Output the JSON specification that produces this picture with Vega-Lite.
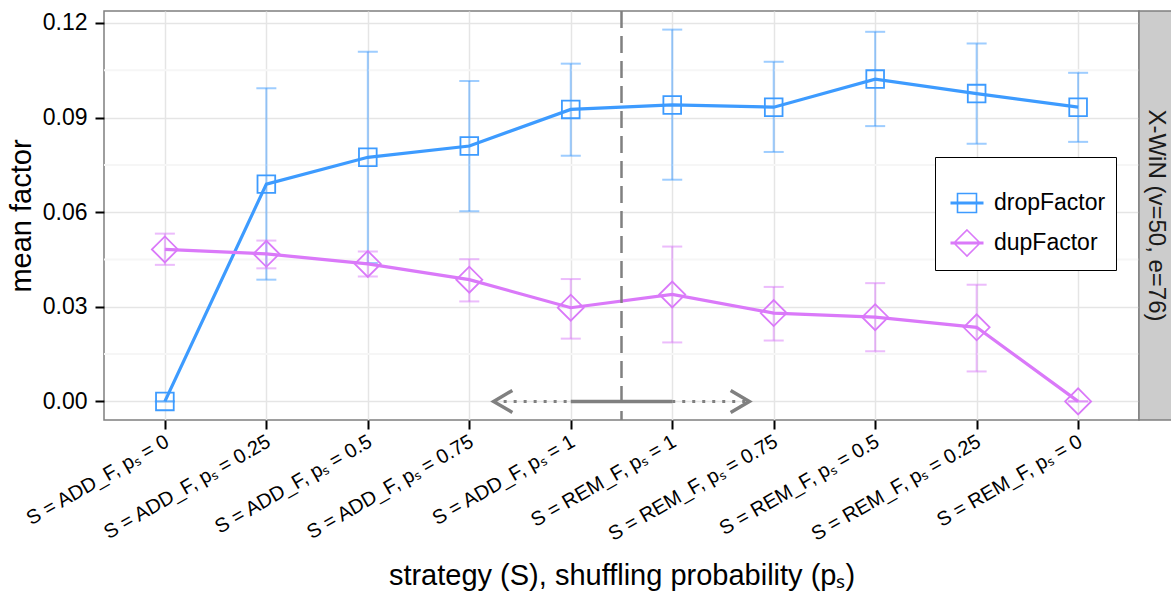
{
  "$schema": "https://vega.github.io/schema/vega-lite/v6.json",
  "padding": {"left": 6, "top": 9, "right": 0, "bottom": 0},
  "bounds": "flush",
  "spacing": 0,
  "background": "white",
  "resolve": {"legend": {"color": "independent", "shape": "independent"}},
  "config": {
    "font": "Liberation Sans",
    "view": {"stroke": null},
    "axis": {
      "labelFont": "Liberation Sans",
      "titleFont": "Liberation Sans",
      "labelColor": "#000000",
      "titleColor": "#000000",
      "titleFontWeight": "normal",
      "tickColor": "#000000",
      "tickWidth": 2,
      "tickSize": 9,
      "domain": false,
      "gridColor": "#E5E5E5",
      "gridWidth": 1.5,
      "labelOverlap": false,
      "labelFlush": false,
      "labelLimit": 0
    }
  },
  "datasets": {
    "stats": [
      {"i": 1, "series": "dropFactor", "mean": 0.0, "lo": 0.0, "hi": 0.0},
      {"i": 2, "series": "dropFactor", "mean": 0.0689, "lo": 0.0386, "hi": 0.0993},
      {"i": 3, "series": "dropFactor", "mean": 0.0774, "lo": 0.0439, "hi": 0.1109},
      {"i": 4, "series": "dropFactor", "mean": 0.081, "lo": 0.0603, "hi": 0.1016},
      {"i": 5, "series": "dropFactor", "mean": 0.0926, "lo": 0.0779, "hi": 0.1071},
      {"i": 6, "series": "dropFactor", "mean": 0.094, "lo": 0.0703, "hi": 0.1179},
      {"i": 7, "series": "dropFactor", "mean": 0.0933, "lo": 0.0791, "hi": 0.1077},
      {"i": 8, "series": "dropFactor", "mean": 0.1022, "lo": 0.0873, "hi": 0.1172},
      {"i": 9, "series": "dropFactor", "mean": 0.0976, "lo": 0.0817, "hi": 0.1135},
      {"i": 10, "series": "dropFactor", "mean": 0.0933, "lo": 0.0823, "hi": 0.1042},
      {"i": 1, "series": "dupFactor", "mean": 0.0482, "lo": 0.0433, "hi": 0.0532},
      {"i": 2, "series": "dupFactor", "mean": 0.0468, "lo": 0.0422, "hi": 0.051},
      {"i": 3, "series": "dupFactor", "mean": 0.0436, "lo": 0.0396, "hi": 0.0475},
      {"i": 4, "series": "dupFactor", "mean": 0.0386, "lo": 0.0317, "hi": 0.0451},
      {"i": 5, "series": "dupFactor", "mean": 0.0297, "lo": 0.0199, "hi": 0.0388},
      {"i": 6, "series": "dupFactor", "mean": 0.0339, "lo": 0.0187, "hi": 0.0491},
      {"i": 7, "series": "dupFactor", "mean": 0.028, "lo": 0.0193, "hi": 0.0363},
      {"i": 8, "series": "dupFactor", "mean": 0.0267, "lo": 0.0159, "hi": 0.0375},
      {"i": 9, "series": "dupFactor", "mean": 0.0235, "lo": 0.0095, "hi": 0.037},
      {"i": 10, "series": "dupFactor", "mean": 0.0, "lo": 0.0, "hi": 0.0}
    ],
    "arrow": [
      {"from": 4.24, "to": 5, "kind": "dotted"},
      {"from": 5, "to": 6, "kind": "solid"},
      {"from": 6, "to": 6.76, "kind": "dotted"}
    ],
    "heads": [
      {"at": 4.24, "dir": "left"},
      {"at": 6.76, "dir": "right"}
    ],
    "minor": [{"g": 0.015}, {"g": 0.045}, {"g": 0.075}, {"g": 0.105}]
  },
  "hconcat": [
    {
      "width": 1035,
      "height": 409,
      "view": {"stroke": "#7F7F7F", "strokeWidth": 1.5},
      "layer": [
        {
          "data": {"name": "minor"},
          "mark": {"type": "rule", "color": "#F6F6F6", "strokeWidth": 2},
          "encoding": {
            "y": {"field": "g", "type": "quantitative", "scale": {"domain": [-0.0059, 0.1238], "nice": false, "zero": false}}
          }
        },
        {
          "data": {"name": "stats"},
          "mark": {"type": "rule", "strokeWidth": 2, "opacity": 0.5},
          "encoding": {
            "x": {
              "field": "i", "type": "quantitative",
              "scale": {"domain": [0.4, 10.6], "nice": false, "zero": false},
              "axis": {
                "values": [1, 2, 3, 4, 5, 6, 7, 8, 9, 10],
                "labelExpr": "['S = ADD_F, pₛ = 0','S = ADD_F, pₛ = 0.25','S = ADD_F, pₛ = 0.5','S = ADD_F, pₛ = 0.75','S = ADD_F, pₛ = 1','S = REM_F, pₛ = 1','S = REM_F, pₛ = 0.75','S = REM_F, pₛ = 0.5','S = REM_F, pₛ = 0.25','S = REM_F, pₛ = 0'][datum.value - 1]",
                "labelAngle": -30,
                "labelAlign": "right",
                "labelBaseline": "top",
                "labelFontSize": 20,
                "labelPadding": 2,
                "labelOffset": -3,
                "title": "strategy (S), shuffling probability (pₛ)",
                "titleFontSize": 29,
                "titlePadding": 17,
                "grid": true
              }
            },
            "y": {
              "field": "lo", "type": "quantitative",
              "scale": {"domain": [-0.0059, 0.1238], "nice": false, "zero": false},
              "axis": {
                "values": [0, 0.03, 0.06, 0.09, 0.12],
                "format": ".2f",
                "labelFontSize": 23,
                "labelPadding": 8,
                "title": "mean factor",
                "titleFontSize": 29,
                "titlePadding": 6,
                "grid": true
              }
            },
            "y2": {"field": "hi"},
            "stroke": {
              "field": "series", "type": "nominal", "legend": null,
              "scale": {"domain": ["dropFactor", "dupFactor"], "range": ["#3D9BFF", "#DA79F9"]}
            }
          }
        },
        {
          "data": {"name": "stats"},
          "mark": {"type": "tick", "orient": "horizontal", "size": 20, "thickness": 2, "opacity": 0.5},
          "encoding": {
            "x": {"field": "i", "type": "quantitative", "scale": {"domain": [0.4, 10.6], "nice": false, "zero": false}},
            "y": {"field": "lo", "type": "quantitative", "scale": {"domain": [-0.0059, 0.1238], "nice": false, "zero": false}},
            "fill": {
              "field": "series", "type": "nominal", "legend": null,
              "scale": {"domain": ["dropFactor", "dupFactor"], "range": ["#3D9BFF", "#DA79F9"]}
            }
          }
        },
        {
          "data": {"name": "stats"},
          "mark": {"type": "tick", "orient": "horizontal", "size": 20, "thickness": 2, "opacity": 0.5},
          "encoding": {
            "x": {"field": "i", "type": "quantitative", "scale": {"domain": [0.4, 10.6], "nice": false, "zero": false}},
            "y": {"field": "hi", "type": "quantitative", "scale": {"domain": [-0.0059, 0.1238], "nice": false, "zero": false}},
            "fill": {"field": "series", "type": "nominal", "legend": null}
          }
        },
        {
          "data": {"name": "stats"},
          "mark": {"type": "line", "strokeWidth": 3.2},
          "encoding": {
            "x": {"field": "i", "type": "quantitative", "scale": {"domain": [0.4, 10.6], "nice": false, "zero": false}},
            "y": {"field": "mean", "type": "quantitative", "scale": {"domain": [-0.0059, 0.1238], "nice": false, "zero": false}},
            "stroke": {"field": "series", "type": "nominal", "legend": null}
          }
        },
        {
          "data": {"name": "stats"},
          "transform": [{"filter": "datum.series === 'dropFactor'"}],
          "mark": {"type": "point", "shape": "square", "size": 313, "filled": false, "strokeWidth": 1.8, "opacity": 1},
          "encoding": {
            "x": {"field": "i", "type": "quantitative", "scale": {"domain": [0.4, 10.6], "nice": false, "zero": false}},
            "y": {"field": "mean", "type": "quantitative", "scale": {"domain": [-0.0059, 0.1238], "nice": false, "zero": false}},
            "stroke": {"field": "series", "type": "nominal", "legend": null}
          }
        },
        {
          "data": {"name": "stats"},
          "transform": [{"filter": "datum.series === 'dupFactor'"}],
          "mark": {"type": "point", "shape": "diamond", "size": 676, "filled": false, "strokeWidth": 1.8, "opacity": 1},
          "encoding": {
            "x": {"field": "i", "type": "quantitative", "scale": {"domain": [0.4, 10.6], "nice": false, "zero": false}},
            "y": {"field": "mean", "type": "quantitative", "scale": {"domain": [-0.0059, 0.1238], "nice": false, "zero": false}},
            "stroke": {"field": "series", "type": "nominal", "legend": null}
          }
        },
        {
          "data": {"name": "stats"},
          "mark": {"type": "point", "filled": false, "strokeWidth": 1.6, "size": 1764, "opacity": 0},
          "encoding": {
            "x": {"field": "i", "type": "quantitative", "scale": {"domain": [0.4, 10.6], "nice": false, "zero": false}},
            "y": {"field": "mean", "type": "quantitative", "scale": {"domain": [-0.0059, 0.1238], "nice": false, "zero": false}},
            "color": {
              "field": "series", "type": "nominal",
              "scale": {"domain": ["dropFactor", "dupFactor"], "range": ["#3D9BFF", "#DA79F9"]},
              "legend": {
                "title": " ",
                "titleFontSize": 10,
                "titlePadding": 4,
                "orient": "none",
                "legendX": 831,
                "legendY": 146,
                "padding": 10,
                "strokeColor": "#000000",
                "fillColor": "#FFFFFF",
                "labelFontSize": 23,
                "labelColor": "#000000",
                "labelOffset": 5,
                "rowPadding": 5,
                "symbolSize": 1764,
                "symbolStrokeWidth": 1.6,
                "symbolOpacity": 1
              }
            },
            "shape": {
              "field": "series", "type": "nominal",
              "legend": {
                "title": " ",
                "titleFontSize": 10,
                "titlePadding": 4,
                "orient": "none",
                "legendX": 831,
                "legendY": 146,
                "padding": 10,
                "strokeColor": "#000000",
                "fillColor": "#FFFFFF",
                "labelFontSize": 23,
                "labelColor": "#000000",
                "labelOffset": 5,
                "rowPadding": 5,
                "symbolSize": 1764,
                "symbolStrokeWidth": 1.6,
                "symbolOpacity": 1
              },
              "scale": {
                "domain": ["dropFactor", "dupFactor"],
                "range": [
                  "M-0.786,0.03L0.786,0.03M-0.786,-0.03L0.786,-0.03M-0.452,-0.452L0.452,-0.452L0.452,0.452L-0.452,0.452Z",
                  "M-0.786,0.03L0.786,0.03M-0.786,-0.03L0.786,-0.03M0,-0.62L0.62,0L0,0.62L-0.62,0Z"
                ]
              }
            }
          }
        },
        {
          "data": {"values": [{"split": 5.5}]},
          "mark": {"type": "rule", "color": "#808080", "strokeWidth": 2.5, "strokeDash": [17, 8]},
          "encoding": {
            "x": {"field": "split", "type": "quantitative", "scale": {"domain": [0.4, 10.6], "nice": false, "zero": false}}
          }
        },
        {
          "data": {"name": "arrow"},
          "transform": [{"filter": "datum.kind === 'dotted'"}],
          "mark": {"type": "rule", "color": "#808080", "strokeWidth": 3, "strokeDash": [3, 7]},
          "encoding": {
            "x": {"field": "from", "type": "quantitative", "scale": {"domain": [0.4, 10.6], "nice": false, "zero": false}},
            "x2": {"field": "to"},
            "y": {"datum": 0, "type": "quantitative", "scale": {"domain": [-0.0059, 0.1238], "nice": false, "zero": false}}
          }
        },
        {
          "data": {"name": "arrow"},
          "transform": [{"filter": "datum.kind === 'solid'"}],
          "mark": {"type": "rule", "color": "#808080", "strokeWidth": 3.5},
          "encoding": {
            "x": {"field": "from", "type": "quantitative", "scale": {"domain": [0.4, 10.6], "nice": false, "zero": false}},
            "x2": {"field": "to"},
            "y": {"datum": 0, "type": "quantitative", "scale": {"domain": [-0.0059, 0.1238], "nice": false, "zero": false}}
          }
        },
        {
          "data": {"name": "heads"},
          "transform": [{"filter": "datum.dir === 'left'"}],
          "mark": {"type": "point", "shape": "M1.7,-1L0,0L1.7,1", "size": 484, "filled": false, "color": "#808080", "strokeWidth": 3.5, "opacity": 1},
          "encoding": {
            "x": {"field": "at", "type": "quantitative", "scale": {"domain": [0.4, 10.6], "nice": false, "zero": false}},
            "y": {"datum": 0, "type": "quantitative", "scale": {"domain": [-0.0059, 0.1238], "nice": false, "zero": false}}
          }
        },
        {
          "data": {"name": "heads"},
          "transform": [{"filter": "datum.dir === 'right'"}],
          "mark": {"type": "point", "shape": "M-1.7,-1L0,0L-1.7,1", "size": 484, "filled": false, "color": "#808080", "strokeWidth": 3.5, "opacity": 1},
          "encoding": {
            "x": {"field": "at", "type": "quantitative", "scale": {"domain": [0.4, 10.6], "nice": false, "zero": false}},
            "y": {"datum": 0, "type": "quantitative", "scale": {"domain": [-0.0059, 0.1238], "nice": false, "zero": false}}
          }
        }
      ]
    },
    {
      "width": 33,
      "height": 409,
      "view": {"fill": "#CCCCCC", "stroke": "#7F7F7F", "strokeWidth": 1.5},
      "data": {"values": [{"panel": "X-WiN (v=50, e=76)"}]},
      "mark": {"type": "text", "angle": 90, "fontSize": 24, "color": "#1A1A1A", "align": "center", "baseline": "middle", "font": "Liberation Sans"},
      "encoding": {"text": {"field": "panel", "type": "nominal"}}
    }
  ]
}
